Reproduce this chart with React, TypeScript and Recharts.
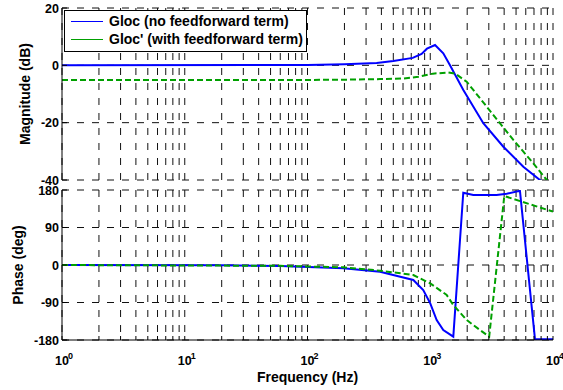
import { LineChart, Line, XAxis, YAxis, CartesianGrid, Legend } from 'recharts';

const FONT = '"Liberation Sans", Arial, Helvetica, sans-serif';

// log frequency axis: every 1..9 step of each decade gets a grid line
const freqTicks = [
  1, 2, 3, 4, 5, 6, 7, 8, 9,
  10, 20, 30, 40, 50, 60, 70, 80, 90,
  100, 200, 300, 400, 500, 600, 700, 800, 900,
  1000, 2000, 3000, 4000, 5000, 6000, 7000, 8000, 9000,
  10000,
];
const decadeExp: Record<number, string> = { 1: '0', 10: '1', 100: '2', 1000: '3', 10000: '4' };

const magTicks = [-40, -20, 0, 20];
const phaseTicks = [-180, -90, 0, 90, 180];

// Gloc, no feedforward
const magFreqA = [1, 100, 200, 366, 500, 720, 850, 940, 1094, 1277, 1445, 1860, 2705, 3940, 5730, 8090, 10000];
const magA = [0, 0.1, 0.4, 0.8, 1.5, 2.6, 4.0, 5.8, 7.1, 4.2, 0.1, -8.6, -20.2, -28.4, -35.4, -40.5, -43];
const phaseFreqA = [1, 20, 60, 196, 390, 728, 877, 1000, 1128, 1277, 1541, 1858, 2240, 3470, 4200, 5380, 7130, 10000];
const phaseA = [0, -0.5, -2.4, -8, -16, -36, -60, -92, -132, -156, -172, 173.5, 168, 168, 171, 178, -178, -178];

// Gloc', with feedforward
const magFreqB = [1, 100, 200, 390, 600, 800, 1050, 1400, 1600, 1980, 2880, 4750, 6920, 8890, 10000];
const magB = [-5.1, -5.1, -5.0, -4.8, -4.6, -4.0, -2.9, -2.5, -2.9, -5.7, -14.4, -26, -34.2, -40, -42];
const phaseFreqB = [1, 60, 196, 390, 728, 1000, 1361, 1541, 1980, 2540, 3020, 4010, 10000];
const phaseB = [0, -2, -5.6, -13.6, -24, -44, -72, -96, -132, -156, -172, 165.6, 128];

const zip = (fs: number[], vs: number[]) => fs.map((f, i) => ({ f, v: vs[i] }));

const BLUE = '#0000ff';
const GREEN = '#00a000';
const NAME_A = 'Gloc (no feedforward term)';
const NAME_B = "Gloc' (with feedforward term)";
const legendColors: Record<string, string> = { [NAME_A]: BLUE, [NAME_B]: GREEN };

const axisLine = { stroke: '#000', strokeWidth: 1 };

function FreqTick(props: any) {
  const { x, y, payload, side, labelled } = props;
  const dir = side === 'top' ? 1 : -1;
  const exp = decadeExp[payload.value];
  return (
    <g>
      <line x1={x} x2={x} y1={y} y2={y + dir * 4} stroke="#000" />
      {labelled && exp !== undefined && (
        <g fontFamily={FONT} fontWeight="bold" fill="#000">
          <text x={x} y={y + 25} textAnchor="middle" fontSize={12.5}>10</text>
          <text x={x + 6} y={y + 18.5} fontSize={9}>{exp}</text>
        </g>
      )}
    </g>
  );
}

function LevelTick(props: any) {
  const { x, y, payload, side } = props;
  const dir = side === 'left' ? 1 : -1;
  return (
    <g>
      <line x1={x} x2={x + dir * 5} y1={y} y2={y} stroke="#000" />
      {side === 'left' && (
        <text x={x - 3} y={y + 4.5} textAnchor="end" fontFamily={FONT} fontWeight="bold" fontSize={12.5} fill="#000">
          {payload.value}
        </text>
      )}
    </g>
  );
}

const yTitle = (text: string, dx: number) => (props: any) => {
  const { viewBox } = props;
  const cx = viewBox.x + dx;
  const cy = viewBox.y + viewBox.height / 2;
  return (
    <text x={cx} y={cy} transform={`rotate(-90 ${cx} ${cy})`} textAnchor="middle" fontFamily={FONT} fontWeight="bold" fontSize={14} fill="#000">
      {text}
    </text>
  );
};

const xTitle = (props: any) => {
  const { viewBox } = props;
  return (
    <text x={viewBox.x + viewBox.width / 2} y={viewBox.y + 42} textAnchor="middle" fontFamily={FONT} fontWeight="bold" fontSize={14} fill="#000">
      Frequency  (Hz)
    </text>
  );
};

const renderLegend = ({ payload }: any) => (
  <div
    style={{
      width: 241,
      height: 39,
      border: '1px solid #000',
      background: '#fff',
      fontFamily: FONT,
      fontWeight: 'bold',
      fontSize: 14,
      color: '#000',
      paddingTop: 1,
      boxSizing: 'content-box',
    }}
  >
    {(payload || []).map((entry: any) => (
      <div key={entry.value} style={{ display: 'flex', alignItems: 'center', height: 18, whiteSpace: 'nowrap' }}>
        <svg width={32} height={3} style={{ marginLeft: 6, marginRight: 6 }}>
          <line x1={0} x2={32} y1={1.5} y2={1.5} stroke={legendColors[entry.value] || entry.color} strokeWidth={1} />
        </svg>
        <span>{entry.value}</span>
      </div>
    ))}
  </div>
);

export default function App() {
  return (
    <div style={{ position: 'absolute', left: 0, top: 0, width: 563, height: 390, background: '#fff' }}>
      <div style={{ position: 'absolute', left: 0, top: 0 }}>
        <LineChart width={563} height={190} margin={{ top: 8, right: 10, bottom: 10, left: 0 }}>
          <CartesianGrid stroke="#111" strokeDasharray="7 8" />
          <XAxis
            dataKey="f"
            type="number"
            scale="log"
            domain={[1, 10000]}
            ticks={freqTicks}
            interval={0}
            allowDataOverflow
            height={0}
            tickSize={0}
            tickMargin={0}
            axisLine={axisLine}
            tickLine={false}
            tick={(p: any) => <FreqTick {...p} side="bottom" labelled={false} />}
          />
          <XAxis
            xAxisId="top"
            orientation="top"
            type="number"
            scale="log"
            domain={[1, 10000]}
            ticks={freqTicks}
            interval={0}
            allowDataOverflow
            height={0}
            tickSize={0}
            tickMargin={0}
            axisLine={axisLine}
            tickLine={false}
            tick={(p: any) => <FreqTick {...p} side="top" labelled={false} />}
          />
          <YAxis
            type="number"
            domain={[-40, 20]}
            ticks={magTicks}
            interval={0}
            allowDataOverflow
            width={62}
            tickSize={0}
            tickMargin={0}
            axisLine={axisLine}
            tickLine={false}
            tick={(p: any) => <LevelTick {...p} side="left" />}
            label={yTitle('Magnitude (dB)', 30)}
          />
          <YAxis
            yAxisId="right"
            orientation="right"
            type="number"
            domain={[-40, 20]}
            ticks={magTicks}
            interval={0}
            allowDataOverflow
            width={0}
            tickSize={0}
            tickMargin={0}
            axisLine={axisLine}
            tickLine={false}
            tick={(p: any) => <LevelTick {...p} side="right" />}
          />
          <Legend
            layout="vertical"
            verticalAlign="middle"
            align="center"
            content={renderLegend}
            wrapperStyle={{ left: 64, top: 10, width: 'auto' }}
          />
          <Line data={zip(magFreqA, magA)} dataKey="v" name={NAME_A} type="linear" stroke={BLUE} strokeWidth={2} dot={false} isAnimationActive={false} />
          <Line data={zip(magFreqB, magB)} dataKey="v" name={NAME_B} type="linear" stroke={GREEN} strokeWidth={2} strokeDasharray="6 3" dot={false} isAnimationActive={false} />
        </LineChart>
      </div>
      <div style={{ position: 'absolute', left: 0, top: 182 }}>
        <LineChart width={563} height={208} margin={{ top: 8, right: 10, bottom: 0, left: 0 }}>
          <CartesianGrid stroke="#111" strokeDasharray="7 8" />
          <XAxis
            dataKey="f"
            type="number"
            scale="log"
            domain={[1, 10000]}
            ticks={freqTicks}
            interval={0}
            allowDataOverflow
            height={50}
            tickSize={0}
            tickMargin={0}
            axisLine={axisLine}
            tickLine={false}
            tick={(p: any) => <FreqTick {...p} side="bottom" labelled />}
            label={xTitle}
          />
          <XAxis
            xAxisId="top"
            orientation="top"
            type="number"
            scale="log"
            domain={[1, 10000]}
            ticks={freqTicks}
            interval={0}
            allowDataOverflow
            height={0}
            tickSize={0}
            tickMargin={0}
            axisLine={axisLine}
            tickLine={false}
            tick={(p: any) => <FreqTick {...p} side="top" labelled={false} />}
          />
          <YAxis
            type="number"
            domain={[-180, 180]}
            ticks={phaseTicks}
            interval={0}
            allowDataOverflow
            width={62}
            tickSize={0}
            tickMargin={0}
            axisLine={axisLine}
            tickLine={false}
            tick={(p: any) => <LevelTick {...p} side="left" />}
            label={yTitle('Phase (deg)', 22.5)}
          />
          <YAxis
            yAxisId="right"
            orientation="right"
            type="number"
            domain={[-180, 180]}
            ticks={phaseTicks}
            interval={0}
            allowDataOverflow
            width={0}
            tickSize={0}
            tickMargin={0}
            axisLine={axisLine}
            tickLine={false}
            tick={(p: any) => <LevelTick {...p} side="right" />}
          />
          <Line data={zip(phaseFreqA, phaseA)} dataKey="v" type="linear" stroke={BLUE} strokeWidth={2} dot={false} isAnimationActive={false} />
          <Line data={zip(phaseFreqB, phaseB)} dataKey="v" type="linear" stroke={GREEN} strokeWidth={2} strokeDasharray="6 3" dot={false} isAnimationActive={false} />
        </LineChart>
      </div>
    </div>
  );
}
